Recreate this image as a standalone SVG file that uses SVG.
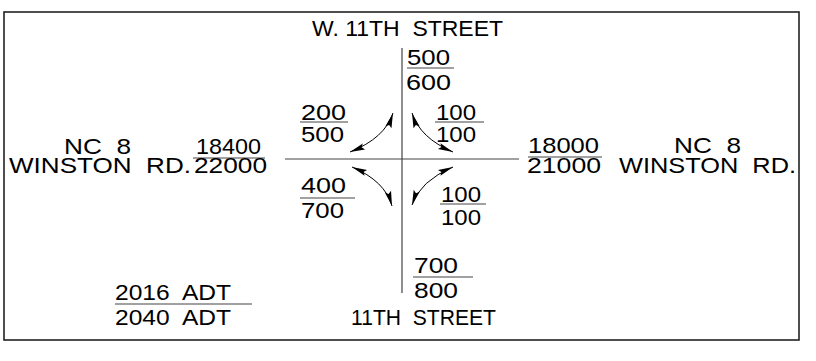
<svg xmlns="http://www.w3.org/2000/svg" width="816" height="361" viewBox="0 0 816 361">
<style>
text{font-family:"Liberation Sans",Arial,sans-serif;font-size:21.5px;fill:#000;white-space:pre}
.fl{stroke:#444;stroke-width:1.2;fill:none}
.road{stroke:#444;stroke-width:1.2;fill:none}
.arr{stroke:#000;stroke-width:1;fill:none;marker-start:url(#ah);marker-end:url(#ah)}
</style>
<defs>
<marker id="ah" viewBox="-16 -4 17 8" refX="0" refY="0" markerWidth="17" markerHeight="8" markerUnits="userSpaceOnUse" orient="auto-start-reverse">
<path d="M0,0 L-15,-3.2 L-12.5,0 L-15,3.2 Z" fill="#000"/>
</marker>
</defs>
<rect x="0" y="0" width="816" height="361" fill="#fff"/>
<rect x="4" y="12" width="795" height="328" fill="none" stroke="#222" stroke-width="1.6"/>

<g id="connectors">
<line class="road" x1="402" y1="48" x2="402" y2="293"/>
<line class="road" x1="285" y1="159" x2="519" y2="159"/>
<path class="arr" d="M350,152 Q385,138 393,113"/>
<path class="arr" d="M453,152 Q420,138 412,113"/>
<path class="arr" d="M352,167 Q385,181 392,206"/>
<path class="arr" d="M453,167 Q420,181 412,205"/>
</g>

<g id="north-street"><text x="312" y="36" textLength="191" lengthAdjust="spacingAndGlyphs">W. 11TH  STREET</text></g>
<g id="north-volume">
<line class="fl" x1="407" y1="68" x2="454" y2="68"/>
<text><tspan x="407" y="65" textLength="43" lengthAdjust="spacingAndGlyphs">500</tspan><tspan x="406" y="90" textLength="45" lengthAdjust="spacingAndGlyphs">600</tspan></text>
</g>
<g id="nw-turn">
<line class="fl" x1="300" y1="122" x2="348" y2="122"/>
<text><tspan x="301" y="120" textLength="45" lengthAdjust="spacingAndGlyphs">200</tspan><tspan x="301" y="142" textLength="43" lengthAdjust="spacingAndGlyphs">500</tspan></text>
</g>
<g id="ne-turn">
<line class="fl" x1="435" y1="122" x2="484" y2="122"/>
<text><tspan x="436" y="120" textLength="40" lengthAdjust="spacingAndGlyphs">100</tspan><tspan x="436" y="142" textLength="40" lengthAdjust="spacingAndGlyphs">100</tspan></text>
</g>
<g id="sw-turn">
<line class="fl" x1="300" y1="198" x2="355" y2="198"/>
<text><tspan x="301" y="193" textLength="45" lengthAdjust="spacingAndGlyphs">400</tspan><tspan x="301" y="218" textLength="43" lengthAdjust="spacingAndGlyphs">700</tspan></text>
</g>
<g id="se-turn">
<line class="fl" x1="440" y1="204" x2="486" y2="204"/>
<text><tspan x="441" y="202" textLength="40" lengthAdjust="spacingAndGlyphs">100</tspan><tspan x="441" y="225" textLength="40" lengthAdjust="spacingAndGlyphs">100</tspan></text>
</g>
<g id="west-road">
<text><tspan x="64" y="154" textLength="67" lengthAdjust="spacingAndGlyphs">NC  8</tspan><tspan x="9" y="173" textLength="182" lengthAdjust="spacingAndGlyphs">WINSTON  RD.</tspan></text>
</g>
<g id="west-volume">
<line class="fl" x1="193" y1="158" x2="265" y2="158"/>
<text><tspan x="196" y="154" textLength="65" lengthAdjust="spacingAndGlyphs">18400</tspan><tspan x="194" y="173" textLength="73" lengthAdjust="spacingAndGlyphs">22000</tspan></text>
</g>
<g id="east-volume">
<line class="fl" x1="528" y1="157" x2="602" y2="157"/>
<text><tspan x="528" y="153" textLength="71" lengthAdjust="spacingAndGlyphs">18000</tspan><tspan x="527" y="173" textLength="74" lengthAdjust="spacingAndGlyphs">21000</tspan></text>
</g>
<g id="east-road">
<text><tspan x="674" y="153" textLength="67" lengthAdjust="spacingAndGlyphs">NC  8</tspan><tspan x="619" y="173" textLength="177" lengthAdjust="spacingAndGlyphs">WINSTON  RD.</tspan></text>
</g>
<g id="south-volume">
<line class="fl" x1="413" y1="277" x2="473" y2="277"/>
<text><tspan x="414" y="273" textLength="44" lengthAdjust="spacingAndGlyphs">700</tspan><tspan x="414" y="298" textLength="44" lengthAdjust="spacingAndGlyphs">800</tspan></text>
</g>
<g id="south-street"><text x="351" y="325" textLength="145" lengthAdjust="spacingAndGlyphs">11TH  STREET</text></g>
<g id="legend">
<line class="fl" x1="115" y1="304" x2="252" y2="304"/>
<text><tspan x="115" y="300" textLength="116" lengthAdjust="spacingAndGlyphs">2016  ADT</tspan><tspan x="115" y="325" textLength="116" lengthAdjust="spacingAndGlyphs">2040  ADT</tspan></text>
</g>
</svg>
